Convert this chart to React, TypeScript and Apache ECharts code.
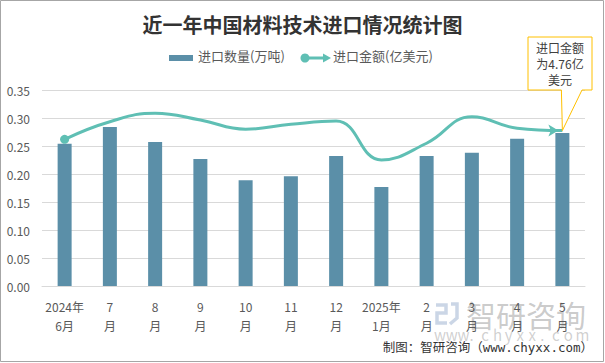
import React, { useEffect, useRef } from "react";
import * as echarts from "echarts";

const titleText = "近一年中国材料技术进口情况统计图";
const seriesNames = ["进口数量(万吨)", "进口金额(亿美元)"];
const categories = [
  "2024年\n6月", "7\n月", "8\n月", "9\n月", "10\n月", "11\n月",
  "12\n月", "2025年\n1月", "2\n月", "3\n月", "4\n月", "5\n月",
];
const quantity = [0.254, 0.284, 0.257, 0.227, 0.189, 0.196, 0.232, 0.177, 0.232, 0.238, 0.263, 0.273];
const amount = [4.49, 5.03, 5.29, 5.08, 4.8, 4.95, 5.05, 3.86, 4.37, 5.18, 4.83, 4.76];
const yTicks = { min: 0, max: 0.35, interval: 0.05 };
const y2Range = { min: 0, max: 6 };
const sourceText = "制图：智研咨询（www.chyxx.com）";

const FONT = "'Noto Sans CJK SC', 'Microsoft YaHei', sans-serif";
const BAR = "#5b8fa8";
const LINE = "#5fbfb4";
const TXT = "#595959";

export default function App() {
  const ref = useRef<HTMLDivElement>(null);
  useEffect(() => {
    if (!ref.current) return;
    const chart = echarts.init(ref.current, undefined, { renderer: "svg" });
    const last = amount.length - 1;
    const lineData = amount.map((v, i) => {
      if (i === 0) return { value: v, symbol: "circle", symbolSize: 9 };
      if (i === last)
        return { value: v, symbol: "arrow", symbolSize: [9, 10], symbolRotate: -90, symbolOffset: [-4, 0] };
      return { value: v, symbol: "none" };
    });
    chart.setOption({
      animation: false,
      textStyle: { fontFamily: FONT },
      title: {
        text: titleText,
        left: "center",
        top: 9,
        textStyle: { fontFamily: FONT, fontSize: 20, fontWeight: "bold", color: "#333333" },
      },
      grid: { left: 42, right: 20, top: 90, bottom: 77 },
      xAxis: {
        type: "category",
        data: categories,
        axisLine: { show: true, lineStyle: { color: "#d9d9d9" } },
        axisTick: { show: false },
        axisLabel: { color: TXT, fontSize: 12, lineHeight: 19, margin: 11, interval: 0 },
      },
      yAxis: [
        {
          type: "value",
          min: yTicks.min,
          max: yTicks.max,
          interval: yTicks.interval,
          axisLine: { show: false },
          axisTick: { show: false },
          splitLine: { lineStyle: { color: "#d9d9d9" } },
          axisLabel: { color: TXT, fontSize: 12, margin: 12, formatter: (v: number) => v.toFixed(2) },
        },
        {
          type: "value",
          min: y2Range.min,
          max: y2Range.max,
          show: false,
          splitLine: { show: false },
        },
      ],
      series: [
        {
          name: seriesNames[0],
          type: "bar",
          data: quantity,
          barWidth: 14,
          itemStyle: { color: BAR },
        },
        {
          name: seriesNames[1],
          type: "line",
          yAxisIndex: 1,
          data: lineData,
          smooth: 0.45,
          lineStyle: { color: LINE, width: 3 },
          itemStyle: { color: LINE },
        },
      ],
    });

    const tip = chart.convertToPixel({ xAxisIndex: 0, yAxisIndex: 1 }, [last, amount[last]]) as number[];
    const bx0 = 528, bx1 = 592, by0 = 37, by1 = 90;
    const wm = "www.chyxx.com";
    const wmChars = wm.split("").map((c, i) => ({
      type: "text",
      left: 434 + i * 11.8,
      top: 327,
      style: { text: c, fill: "rgba(150,150,150,0.45)", fontSize: 15, fontFamily: FONT },
      silent: true,
    }));
    chart.setOption({
      graphic: [
        {
          type: "rect",
          shape: { x: 0.5, y: 0.5, width: 603, height: 361 },
          style: { fill: "none", stroke: "#a6a6a6", lineWidth: 1 },
          silent: true,
        },
        // legend
        { type: "rect", shape: { x: 169, y: 55, width: 24, height: 6 }, style: { fill: BAR } },
        {
          type: "text",
          left: 198,
          top: 49,
          style: { text: seriesNames[0], fill: TXT, fontSize: 13, fontFamily: FONT },
        },
        { type: "line", shape: { x1: 305, y1: 58, x2: 326, y2: 58 }, style: { stroke: LINE, lineWidth: 3 } },
        { type: "circle", shape: { cx: 305, cy: 58, r: 4.5 }, style: { fill: LINE } },
        { type: "polygon", shape: { points: [[323, 53.5], [331, 58], [323, 62.5]] }, style: { fill: LINE } },
        {
          type: "text",
          left: 333,
          top: 49,
          style: { text: seriesNames[1], fill: TXT, fontSize: 13, fontFamily: FONT },
        },
        // callout
        {
          type: "polygon",
          shape: {
            points: [
              [bx0, by0], [bx1, by0], [bx1, by1], [bx1 - 10, by1],
              [tip[0], tip[1]], [tip[0] - 1, by1], [bx0, by1],
            ],
          },
          style: { fill: "#ffffff", stroke: "#ffc000", lineWidth: 1 },
          z: 100,
        },
        {
          type: "text",
          x: (bx0 + bx1) / 2,
          y: (by0 + by1) / 2,
          z: 101,
          style: {
            text: `进口金额\n为${amount[last].toFixed(2)}亿\n美元`,
            fill: "#404040",
            fontSize: 12,
            lineHeight: 16,
            align: "center",
            verticalAlign: "middle",
            fontFamily: FONT,
          },
        },
        // watermark logo
        {
          type: "polyline",
          shape: { points: [[436, 305], [446, 305], [446, 313], [437, 313], [437, 323], [447, 323]] },
          style: { stroke: "rgba(160,180,210,0.55)", lineWidth: 3.5, fill: "none" },
          silent: true,
        },
        {
          type: "polyline",
          shape: { points: [[451, 304], [457, 304], [457, 318], [450, 324]] },
          style: { stroke: "rgba(160,180,210,0.55)", lineWidth: 3.5, fill: "none" },
          silent: true,
        },
        {
          type: "text",
          left: 466,
          top: 299,
          style: { text: "智研咨询", fill: "rgba(140,140,140,0.45)", fontSize: 30, fontFamily: FONT },
          silent: true,
        },
        ...wmChars,
        {
          type: "text",
          right: 12,
          top: 341,
          style: {
            text: sourceText,
            fill: "#333333",
            fontSize: 12.5,
            fontFamily: "'DejaVu Sans Mono', 'Noto Sans CJK SC', monospace",
          },
        },
      ],
    });
    return () => chart.dispose();
  }, []);
  return (
    <div
      ref={ref}
      style={{ position: "fixed", left: 0, top: 0, width: 605, height: 363, background: "#ffffff" }}
    />
  );
}
